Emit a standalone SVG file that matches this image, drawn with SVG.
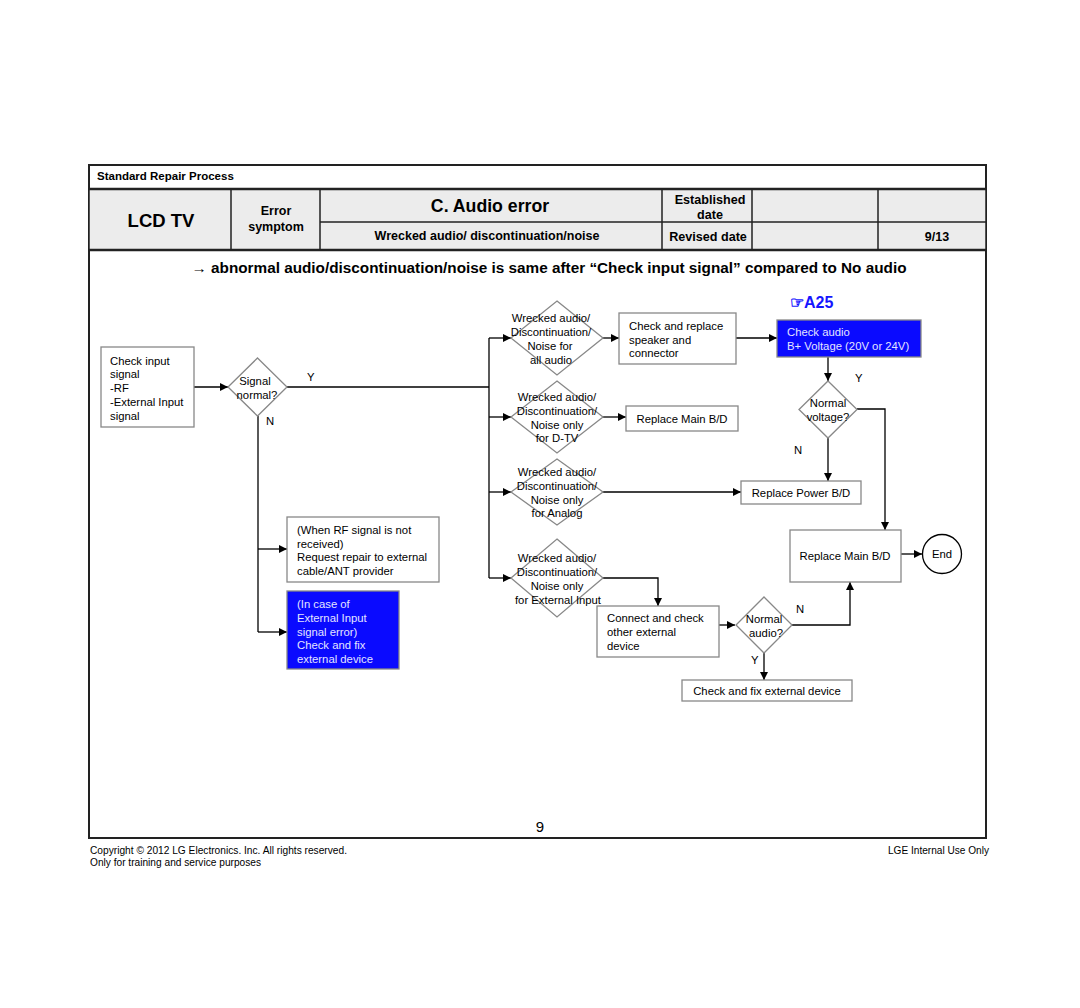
<svg xmlns="http://www.w3.org/2000/svg" width="1080" height="1008" viewBox="0 0 1080 1008">
<style>
text{font-family:"Liberation Sans",Arial,sans-serif;fill:#000}
.hb{font-weight:bold}
.t{font-size:11.3px}
.c{text-anchor:middle}
.box{fill:#fff;stroke:#888;stroke-width:1.3}
.blue{fill:#0a0aff;stroke:#888;stroke-width:1.3}
.wt{fill:#e4e4ff}
.dia{fill:#fff;stroke:#888;stroke-width:1.3}
.hdr{fill:#ececec;stroke:#222;stroke-width:1.5}
.ln{fill:none;stroke:#000;stroke-width:1.3}
.arr{fill:none;stroke:#000;stroke-width:1.3;marker-end:url(#ah)}
</style>
<defs>
<marker id="ah" viewBox="0 0 10 10" refX="10" refY="5" markerWidth="9" markerHeight="8" markerUnits="userSpaceOnUse" orient="auto">
<path d="M0,0 L10,5 L0,10 z" fill="#000"/>
</marker>
</defs>
<rect width="1080" height="1008" fill="#fff"/>

<g id="header">
<rect x="89" y="165" width="897" height="673" fill="#fff" stroke="#222" stroke-width="2"/>
<text x="97" y="180" class="hb" font-size="11.5">Standard Repair Process</text>
<rect x="89" y="189" width="897" height="61" class="hdr"/>
<line x1="89" y1="189" x2="986" y2="189" stroke="#222" stroke-width="2.5"/>
<line x1="89" y1="250" x2="986" y2="250" stroke="#222" stroke-width="2.5"/>
<line x1="231" y1="189" x2="231" y2="250" stroke="#222" stroke-width="1.5"/>
<line x1="320" y1="189" x2="320" y2="250" stroke="#222" stroke-width="1.5"/>
<line x1="662" y1="189" x2="662" y2="250" stroke="#222" stroke-width="1.5"/>
<line x1="752" y1="189" x2="752" y2="250" stroke="#222" stroke-width="1.5"/>
<line x1="878" y1="189" x2="878" y2="250" stroke="#222" stroke-width="1.5"/>
<line x1="320" y1="222" x2="986" y2="222" stroke="#222" stroke-width="1.5"/>
<text x="161" y="227" class="hb c" font-size="18.5">LCD  TV</text>
<text x="276" y="215" class="hb c" font-size="12.5">Error</text>
<text x="276" y="231" class="hb c" font-size="12.5">symptom</text>
<text x="490" y="212" class="hb c" font-size="17.7">C. Audio error</text>
<text x="487" y="240" class="hb c" font-size="12.5">Wrecked audio/ discontinuation/noise</text>
<text x="710" y="204" class="hb c" font-size="12.6">Established</text>
<text x="710" y="219" class="hb c" font-size="12.6">date</text>
<text x="708" y="241" class="hb c" font-size="12.6">Revised date</text>
<text x="937" y="241" class="hb c" font-size="12.5">9/13</text>
<text x="549" y="273" class="hb c" font-size="14" textLength="715" lengthAdjust="spacingAndGlyphs">→ abnormal audio/discontinuation/noise is same after “Check input signal” compared to No audio</text>
<text x="790" y="308" class="hb" font-size="16" style="fill:#1515ff">☞A25</text>
<text x="540" y="832" class="c" font-size="15">9</text>
<text x="90" y="854" font-size="10" textLength="257" lengthAdjust="spacingAndGlyphs">Copyright © 2012 LG Electronics. Inc. All rights reserved.</text>
<text x="90" y="866" font-size="10" textLength="171" lengthAdjust="spacingAndGlyphs">Only for training and service purposes</text>
<text x="888" y="854" font-size="10" textLength="101" lengthAdjust="spacingAndGlyphs">LGE Internal Use Only</text>
</g>

<g id="connectors">
<line x1="194" y1="387" x2="228" y2="387" class="arr"/>
<line x1="287" y1="387" x2="489" y2="387" class="ln"/>
<line x1="258" y1="416" x2="258" y2="632" class="ln"/>
<line x1="258" y1="549" x2="287" y2="549" class="arr"/>
<line x1="258" y1="632" x2="287" y2="632" class="arr"/>
<line x1="489" y1="338" x2="489" y2="578" class="ln"/>
<line x1="489" y1="338" x2="511" y2="338" class="arr"/>
<line x1="489" y1="417" x2="511" y2="417" class="arr"/>
<line x1="489" y1="492" x2="511" y2="492" class="arr"/>
<line x1="489" y1="578" x2="511" y2="578" class="arr"/>
<line x1="601" y1="338" x2="619" y2="338" class="arr"/>
<line x1="736" y1="338" x2="777" y2="338" class="arr"/>
<line x1="601" y1="417" x2="626" y2="417" class="arr"/>
<line x1="601" y1="492" x2="741" y2="492" class="arr"/>
<polyline points="601,578 658,578 658,606" class="arr"/>
<line x1="828" y1="357" x2="828" y2="381" class="arr"/>
<polyline points="857,409 885,409 885,530" class="arr"/>
<line x1="828" y1="438" x2="828" y2="481" class="arr"/>
<line x1="901" y1="554" x2="922" y2="554" class="arr"/>
<line x1="719" y1="625" x2="735" y2="625" class="arr"/>
<polyline points="792,625 850,625 850,582" class="arr"/>
<line x1="764" y1="653" x2="764" y2="680" class="arr"/>
<text x="307" y="381" class="t">Y</text>
<text x="266" y="425" class="t">N</text>
<text x="855" y="382" class="t">Y</text>
<text x="794" y="454" class="t">N</text>
<text x="796" y="613" class="t">N</text>
<text x="751" y="664" class="t">Y</text>
</g>

<g id="check-input">
<rect x="101" y="347" width="93" height="80" class="box"/>
<text x="110" y="365" class="t">Check input</text>
<text x="110" y="378" class="t">signal</text>
<text x="110" y="392" class="t">-RF</text>
<text x="110" y="406" class="t">-External Input</text>
<text x="110" y="420" class="t">signal</text>
</g>

<g id="signal-normal">
<polygon points="257.5,358 287,387 257.5,416 228,387" class="dia"/>
<text x="255" y="385" class="c t">Signal</text>
<text x="257" y="399" class="c t">normal?</text>
</g>

<g id="rf-not-received">
<rect x="287" y="517" width="152" height="65" class="box"/>
<text x="297" y="534" class="t">(When RF signal is not</text>
<text x="297" y="548" class="t">received)</text>
<text x="297" y="561" class="t">Request repair to external</text>
<text x="297" y="575" class="t">cable/ANT provider</text>
</g>

<g id="ext-input-error">
<rect x="287" y="591" width="112" height="78" class="blue"/>
<text x="297" y="608" class="t wt">(In case of</text>
<text x="297" y="622" class="t wt">External Input</text>
<text x="297" y="636" class="t wt">signal error)</text>
<text x="297" y="649" class="t wt">Check and fix</text>
<text x="297" y="663" class="t wt">external device</text>
</g>

<g id="d-all-audio">
<polygon points="557,301 603,338 557,375 511,338" class="dia"/>
<text x="551" y="322" class="c t">Wrecked audio/</text>
<text x="551" y="336" class="c t">Discontinuation/</text>
<text x="550" y="350" class="c t">Noise for</text>
<text x="551" y="364" class="c t">all audio</text>
</g>

<g id="d-dtv">
<polygon points="557,381 603,417 557,453 511,417" class="dia"/>
<text x="557" y="401" class="c t">Wrecked audio/</text>
<text x="557" y="415" class="c t">Discontinuation/</text>
<text x="557" y="429" class="c t">Noise only</text>
<text x="557" y="442" class="c t">for D-TV</text>
</g>

<g id="d-analog">
<polygon points="557,459 603,492 557,525 511,492" class="dia"/>
<text x="557" y="476" class="c t">Wrecked audio/</text>
<text x="557" y="490" class="c t">Discontinuation/</text>
<text x="557" y="504" class="c t">Noise only</text>
<text x="557" y="517" class="c t">for Analog</text>
</g>

<g id="d-external">
<polygon points="557,539 603,578 557,617 511,578" class="dia"/>
<text x="557" y="562" class="c t">Wrecked audio/</text>
<text x="557" y="576" class="c t">Discontinuation/</text>
<text x="557" y="590" class="c t">Noise only</text>
<text x="558" y="604" class="c t">for External Input</text>
</g>

<g id="replace-speaker">
<rect x="619" y="313" width="117" height="51" class="box"/>
<text x="629" y="330" class="t">Check and replace</text>
<text x="629" y="344" class="t">speaker and</text>
<text x="629" y="357" class="t">connector</text>
</g>

<g id="check-b-voltage">
<rect x="777" y="320" width="144" height="37" class="blue"/>
<text x="787" y="336" class="t wt">Check audio</text>
<text x="787" y="350" class="t wt">B+ Voltage (20V or 24V)</text>
</g>

<g id="normal-voltage">
<polygon points="828,381 857,409.5 828,438 799,409.5" class="dia"/>
<text x="828" y="407" class="c t">Normal</text>
<text x="828" y="421" class="c t">voltage?</text>
</g>

<g id="replace-main-dtv">
<rect x="626" y="406" width="112" height="25" class="box"/>
<text x="682" y="423" class="c t">Replace Main B/D</text>
</g>

<g id="replace-power">
<rect x="741" y="481" width="120" height="23" class="box"/>
<text x="801" y="497" class="c t">Replace Power B/D</text>
</g>

<g id="replace-main">
<rect x="790" y="530" width="111" height="52" class="box"/>
<text x="845" y="560" class="c t">Replace Main B/D</text>
</g>

<g id="end">
<circle cx="942" cy="554" r="19.5" fill="#fff" stroke="#000" stroke-width="1.3"/>
<text x="942" y="558" class="c t">End</text>
</g>

<g id="connect-check">
<rect x="597" y="606" width="122" height="51" class="box"/>
<text x="607" y="622" class="t">Connect and check</text>
<text x="607" y="636" class="t">other external</text>
<text x="607" y="650" class="t">device</text>
</g>

<g id="normal-audio">
<polygon points="764,597 792,625 764,653 736,625" class="dia"/>
<text x="764" y="623" class="c t">Normal</text>
<text x="766" y="637" class="c t">audio?</text>
</g>

<g id="check-fix-ext">
<rect x="682" y="680" width="170" height="21" class="box"/>
<text x="767" y="695" class="c t">Check and fix external device</text>
</g>
</svg>
